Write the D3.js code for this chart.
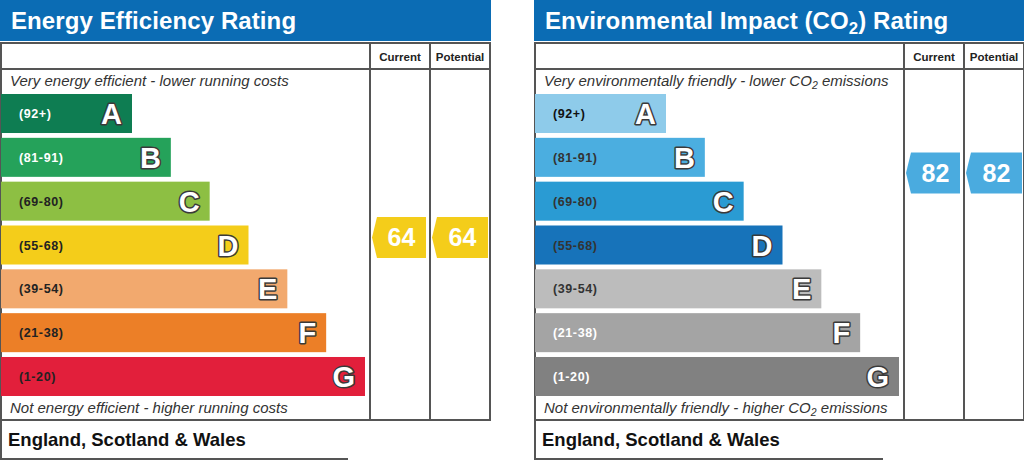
<!DOCTYPE html>
<html>
<head>
<meta charset="utf-8">
<script src="https://cdn.jsdelivr.net/npm/d3@7"></script>
<style>
  html, body { margin: 0; padding: 0; background: #ffffff; }
  svg { display: block; font-family: "Liberation Sans", Arial, Helvetica, sans-serif; }
</style>
</head>
<body>
<svg id="chart" width="1024" height="460"></svg>
<script>
// ---------- data ----------
const bands = ["A", "B", "C", "D", "E", "F", "G"];
const rangeLabels = ["(92+)", "(81-91)", "(69-80)", "(55-68)", "(39-54)", "(21-38)", "(1-20)"];
const bandMin = [92, 81, 69, 55, 39, 21, 1];
const bandMax = [100, 91, 80, 68, 54, 38, 20];

const eeColors = ["#0e7d52", "#25a25a", "#8dbf43", "#f4cd1a", "#f2a96e", "#ec7f27", "#e21f3b"];
const eeLabelColors = ["#ffffff", "#ffffff", "#222222", "#222222", "#222222", "#222222", "#222222"];
const ciColors = ["#8ecbea", "#4baee0", "#2a9bd3", "#1773ba", "#bcbcbc", "#a4a4a4", "#818181"];
const ciLabelColors = ["#111111", "#333333", "#333333", "#333333", "#333333", "#ffffff", "#ffffff"];

const eeScores = { current: 64, potential: 64 };
const ciScores = { current: 82, potential: 82 };

const panels = [
  {
    offset: 0,
    title: [["Energy Efficiency Rating", false]],
    top: [["Very energy efficient - lower running costs", false]],
    bottom: [["Not energy efficient - higher running costs", false]],
    colors: eeColors, labelColors: eeLabelColors, scores: eeScores,
    arrowColor: "#f4cd1a",
    footerWidth: 348
  },
  {
    offset: 534,
    title: [["Environmental Impact (CO", false], ["2", true], [") Rating", false]],
    top: [["Very environmentally friendly - lower CO", false], ["2", true], [" emissions", false]],
    bottom: [["Not environmentally friendly - higher CO", false], ["2", true], [" emissions", false]],
    colors: ciColors, labelColors: ciLabelColors, scores: ciScores,
    arrowColor: "#4aabdf",
    footerWidth: 349
  }
];

// ---------- layout ----------
const W = 490;
const colCurrent = 370, colPotential = 430;
const tableTop = 43, headerRow = 69, tableBottom = 420, footerBottom = 459;

const y = d3.scaleBand().domain(bands).range([94, 396]).paddingInner(0.11).paddingOuter(0);
const barEnd = d3.scaleLinear().domain([0, bands.length - 1]).range([132, 365]);

function scoreY(score) {
  const i = bands.findIndex((b, k) => score >= bandMin[k] && score <= bandMax[k]);
  const frac = (score - bandMin[i]) / (bandMax[i] - bandMin[i]);
  return y(bands[i]) + y.bandwidth() - frac * y.bandwidth();
}

const svg = d3.select("#chart");

function richText(sel, parts, size) {
  parts.forEach(([t, sub]) => {
    const ts = sel.append("tspan").text(t);
    if (sub) {
      ts.attr("font-size", size * 0.7).attr("dy", size * 0.22);
    } else if (sel.selectAll("tspan").size() > 1) {
      ts.attr("dy", -size * 0.22);
    }
  });
}

panels.forEach(p => {
  const g = svg.append("g").attr("transform", `translate(${p.offset},0)`);

  // header bar
  g.append("rect").attr("x", 0).attr("y", 0).attr("width", W + 1).attr("height", 41).attr("fill", "#0b6cb4");
  const tt = g.append("text").attr("x", 11).attr("y", 29).attr("fill", "#fff")
    .attr("font-size", 24).attr("font-weight", "bold").attr("letter-spacing", 0.1);
  richText(tt, p.title, 24);

  // table frame
  const lineColor = "#555";
  g.append("rect").attr("x", 1).attr("y", tableTop).attr("width", W - 1).attr("height", tableBottom - tableTop)
    .attr("fill", "#fff").attr("stroke", lineColor).attr("stroke-width", 2);
  g.append("line").attr("x1", 1).attr("x2", W).attr("y1", headerRow).attr("y2", headerRow)
    .attr("stroke", lineColor).attr("stroke-width", 2);
  [colCurrent, colPotential].forEach(cx => {
    g.append("line").attr("x1", cx).attr("x2", cx).attr("y1", tableTop).attr("y2", tableBottom)
      .attr("stroke", lineColor).attr("stroke-width", 2);
  });
  g.append("text").attr("x", (colCurrent + colPotential) / 2).attr("y", 61).attr("text-anchor", "middle")
    .attr("font-size", 11.5).attr("font-weight", "bold").attr("fill", "#222").text("Current");
  g.append("text").attr("x", (colPotential + W) / 2).attr("y", 61).attr("text-anchor", "middle")
    .attr("font-size", 11.5).attr("font-weight", "bold").attr("fill", "#222").text("Potential");

  // top / bottom descriptions
  const t1 = g.append("text").attr("x", 10).attr("y", 86).attr("font-size", 15).attr("font-style", "italic").attr("fill", "#333");
  richText(t1, p.top, 15);
  const t2 = g.append("text").attr("x", 10).attr("y", 413).attr("font-size", 15).attr("font-style", "italic").attr("fill", "#333");
  richText(t2, p.bottom, 15);

  // bars
  const rows = g.selectAll("g.band").data(bands).enter().append("g").attr("class", "band");
  rows.append("rect")
    .attr("x", 1)
    .attr("y", d => y(d))
    .attr("width", (d, i) => barEnd(i) - 1)
    .attr("height", y.bandwidth())
    .attr("fill", (d, i) => p.colors[i]);
  rows.append("text")
    .attr("x", 19)
    .attr("y", d => y(d) + y.bandwidth() / 2 + 4.5)
    .attr("font-size", 12.5).attr("font-weight", "bold").attr("letter-spacing", 0.6)
    .attr("fill", (d, i) => p.labelColors[i])
    .text((d, i) => rangeLabels[i]);
  rows.append("text")
    .attr("x", (d, i) => barEnd(i) - 10)
    .attr("y", d => y(d) + y.bandwidth() / 2 + 10.5)
    .attr("text-anchor", "end")
    .attr("font-size", 29).attr("font-weight", "bold")
    .attr("fill", "#fff").attr("stroke", "#3a3a3a").attr("stroke-width", 3)
    .attr("stroke-linejoin", "round").attr("paint-order", "stroke fill")
    .text(d => d);

  // rating arrows
  const arrows = [
    { score: p.scores.current, x0: colCurrent + 2, x1: colPotential - 4 },
    { score: p.scores.potential, x0: colPotential + 2, x1: W - 2 }
  ];
  const ah = 41, tip = 5;
  arrows.forEach(a => {
    const cy = scoreY(a.score);
    const pts = [[a.x0, cy], [a.x0 + tip, cy - ah / 2], [a.x1, cy - ah / 2], [a.x1, cy + ah / 2], [a.x0 + tip, cy + ah / 2]];
    g.append("path").attr("d", d3.line()(pts) + "Z").attr("fill", p.arrowColor);
    g.append("text").attr("x", (a.x0 + tip + a.x1) / 2).attr("y", cy + 9)
      .attr("text-anchor", "middle").attr("font-size", 25).attr("font-weight", "bold").attr("fill", "#fff")
      .text(a.score);
  });

  // footer
  g.append("path")
    .attr("d", `M1,${tableBottom} L1,${footerBottom} L${p.footerWidth},${footerBottom}`)
    .attr("fill", "none").attr("stroke", lineColor).attr("stroke-width", 2);
  g.append("text").attr("x", 8).attr("y", 446).attr("font-size", 18.5).attr("font-weight", "bold").attr("fill", "#111")
    .text("England, Scotland & Wales");
});
</script>
</body>
</html>
